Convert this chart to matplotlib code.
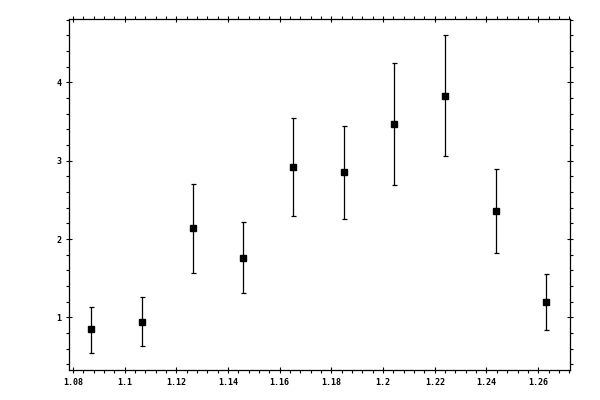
import matplotlib
matplotlib.use("Agg")
import matplotlib.pyplot as plt
from matplotlib.ticker import MultipleLocator, FuncFormatter

x = [1.0872, 1.1067, 1.1263, 1.1458, 1.1653, 1.1849, 1.2044, 1.2240, 1.2435, 1.2630]
y = [0.847, 0.936, 2.137, 1.753, 2.916, 2.852, 3.465, 3.823, 2.354, 1.190]
y_low = [0.540, 0.630, 1.562, 1.307, 2.290, 2.252, 2.686, 3.056, 1.817, 0.834]
y_high = [1.135, 1.255, 2.700, 2.213, 3.540, 3.440, 4.244, 4.601, 2.890, 1.549]

err_lo = [a - b for a, b in zip(y, y_low)]
err_hi = [b - a for a, b in zip(y, y_high)]

fig = plt.figure(figsize=(6, 4), dpi=100)
ax = fig.add_axes([0.115, 0.075, 0.835, 0.8775])

ax.errorbar(x, y, yerr=[err_lo, err_hi], fmt='s', color='black',
            markersize=5, elinewidth=0.9, capsize=1.8, capthick=0.9)

ax.set_xlim(1.0785, 1.2723)
ax.set_ylim(0.327, 4.81)

ax.xaxis.set_major_locator(MultipleLocator(0.02))
ax.xaxis.set_minor_locator(MultipleLocator(0.004))
ax.yaxis.set_major_locator(MultipleLocator(1))
ax.yaxis.set_minor_locator(MultipleLocator(0.2))

def fmt(v, pos):
    s = ('%.2f' % v).rstrip('0').rstrip('.')
    return s
ax.xaxis.set_major_formatter(FuncFormatter(fmt))
ax.yaxis.set_major_formatter(FuncFormatter(fmt))

ax.tick_params(which='major', direction='inout', length=5, width=0.8,
               top=True, right=True, labelsize=6, pad=3)
ax.tick_params(which='minor', direction='out', length=2.3, width=0.8,
               top=True, right=True)
for lab in ax.get_xticklabels() + ax.get_yticklabels():
    lab.set_family('DejaVu Sans Mono')
    lab.set_fontweight('bold')
for sp in ax.spines.values():
    sp.set_linewidth(0.9)

fig.savefig('out.png', dpi=100)
